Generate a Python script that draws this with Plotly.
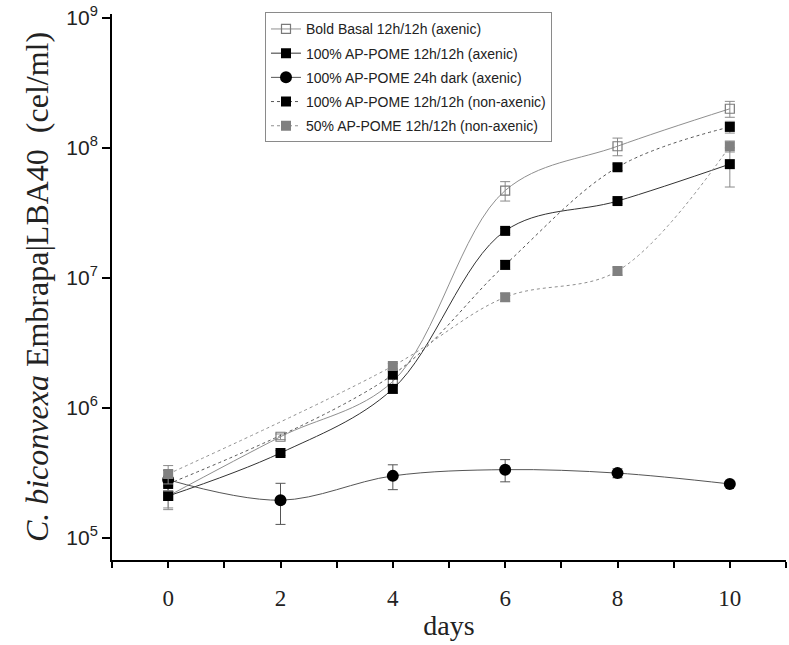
import plotly.graph_objects as go

# ---- data ----
days_all = [0, 2, 4, 6, 8, 10]
days_nonax = [0, 4, 6, 8, 10]

basal = [2.1e5, 6.0e5, 1.6e6, 4.7e7, 1.03e8, 2.0e8]
basal_err = [0.45e5, 0.3e5, 0.1e6, 0.8e7, 1.6e7, 2.8e7]

axenic100 = [2.1e5, 4.5e5, 1.4e6, 2.3e7, 3.9e7, 7.5e7]
axenic100_err = [0.4e5, 0.2e5, 0.1e6, 0.1e7, 0.15e7, 2.5e7]

dark100 = [2.8e5, 1.95e5, 3.0e5, 3.35e5, 3.15e5, 2.6e5]
dark100_err = [0.5e5, 0.68e5, 0.65e5, 0.65e5, 0.25e5, 0.1e5]

nonax100 = [2.6e5, 1.8e6, 1.26e7, 7.1e7, 1.45e8]
nonax100_err = [0.3e5, 0.1e6, 0.1e7, 0.4e7, 0.15e8]

nonax50 = [3.1e5, 2.1e6, 7.1e6, 1.13e7, 1.03e8]
nonax50_err = [0.5e5, 0.1e6, 0.5e6, 0.8e6, 0.1e8]

names = [
    "Bold Basal 12h/12h (axenic)",
    "100% AP-POME 12h/12h (axenic)",
    "100% AP-POME 24h dark (axenic)",
    "100% AP-POME 12h/12h (non-axenic)",
    "50% AP-POME 12h/12h (non-axenic)",
]

y_tickvals = [1e5, 1e6, 1e7, 1e8, 1e9]
y_ticktext = ["10<sup>5</sup>", "10<sup>6</sup>", "10<sup>7</sup>", "10<sup>8</sup>", "10<sup>9</sup>"]

SANS = "Liberation Sans, Arial, sans-serif"
SERIF = "Liberation Serif, Times New Roman, serif"

fig = go.Figure()

series = [
    (days_all, basal, basal_err, dict(color="#8f8f8f", width=1, dash="solid"),
     dict(symbol="square-open", size=9, color="#7a7a7a", line=dict(width=1.2, color="#7a7a7a")), "#8a8a8a"),
    (days_all, axenic100, axenic100_err, dict(color="#333333", width=1, dash="solid"),
     dict(symbol="square", size=10, color="#000000"), "#8a8a8a"),
    (days_all, dark100, dark100_err, dict(color="#555555", width=1, dash="solid"),
     dict(symbol="circle", size=12, color="#000000"), "#555555"),
    (days_nonax, nonax100, nonax100_err, dict(color="#555555", width=1, dash="dot"),
     dict(symbol="square", size=10, color="#000000"), "#8a8a8a"),
    (days_nonax, nonax50, nonax50_err, dict(color="#8f8f8f", width=1, dash="dot"),
     dict(symbol="square", size=10, color="#808080"), "#8a8a8a"),
]

for i, (xs, ys, es, ln, mk, ecol) in enumerate(series):
    fig.add_trace(go.Scatter(
        x=xs, y=ys, name=names[i], mode="lines+markers",
        line=dict(shape="spline", smoothing=1.0, **ln),
        marker=mk,
        error_y=dict(type="data", array=es, visible=True, color=ecol, thickness=1, width=5),
        legendgroup=f"g{i}",
    ))

fig.update_layout(
    width=789, height=645,
    margin=dict(l=112, r=3, t=8, b=85),
    paper_bgcolor="white", plot_bgcolor="white",
    showlegend=True,
    legend=dict(
        x=0.227, y=1.003, xanchor="left", yanchor="top",
        bordercolor="#8a8a8a", borderwidth=1, bgcolor="white",
        font=dict(family=SANS, size=14, color="#222222"),
        tracegroupgap=3, traceorder="grouped",
    ),
    xaxis=dict(
        range=[-1, 11], showgrid=False, zeroline=False,
        showline=True, linecolor="black", linewidth=2,
        ticks="outside", ticklen=6, tickwidth=2, tickcolor="black",
        tick0=0, dtick=2,
        minor=dict(dtick=1, tick0=-1, ticks="outside", ticklen=6, tickwidth=2, tickcolor="black"),
        tickfont=dict(family=SERIF, size=23, color="#222222"),
        ticklabelstandoff=10,
        title=dict(text="days", font=dict(family=SERIF, size=28, color="#222222"), standoff=6),
    ),
    yaxis=dict(
        type="log", range=[4.83, 9.03], showgrid=False, zeroline=False,
        showline=True, linecolor="black", linewidth=2,
        ticks="outside", ticklen=8, tickwidth=2, tickcolor="black",
        tickvals=y_tickvals, ticktext=y_ticktext,
        tickfont=dict(family=SANS, size=21, color="#222222"),
        ticklabeloverflow="allow",
        title=dict(text="<i>C. biconvexa</i> Embrapa|LBA40  (cel/ml)",
                   font=dict(family=SERIF, size=32, color="#222222"), standoff=8),
    ),
    yaxis2=dict(
        type="log", range=[4.83, 9.03], overlaying="y", anchor="x", side="left",
        showgrid=False, zeroline=False, showline=False,
        ticks="inside", ticklen=8, tickwidth=2, tickcolor="black",
        tickvals=y_tickvals, showticklabels=False,
    ),
)

fig.write_html("out.html", config={"displayModeBar": False},
               post_script="document.body.style.margin='0';document.body.style.padding='0';")
